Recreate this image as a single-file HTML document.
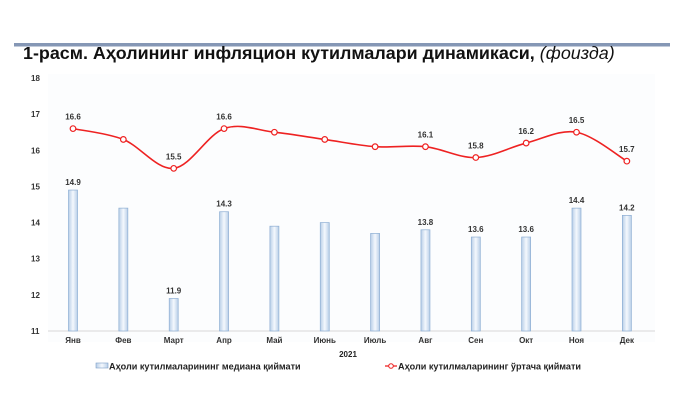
<!DOCTYPE html>
<html><head><meta charset="utf-8"><style>
body{margin:0;background:#fff;width:680px;height:406px;overflow:hidden;font-family:"Liberation Sans",sans-serif}
</style></head><body>
<svg id="s" width="680" height="406" xmlns="http://www.w3.org/2000/svg" font-family="Liberation Sans, sans-serif">
<defs><linearGradient id="g" x1="0" x2="1" y1="0" y2="0"><stop offset="0" stop-color="#b9cfe8"/><stop offset="0.5" stop-color="#f4f8fd"/><stop offset="1" stop-color="#b9cfe8"/></linearGradient></defs>
<rect x="14" y="43" width="656" height="3.5" fill="#8597b5"/>
<text x="23" y="59" font-size="17.9" font-weight="bold" fill="#111">1-расм. Аҳолининг инфляцион кутилмалари динамикаси, <tspan font-weight="normal" font-style="italic">(фоизда)</tspan></text>
<rect x="48" y="74" width="607" height="268" fill="#fcfdfe"/>
<g id="ax" font-size="8" font-weight="bold" fill="#333"></g>
<line x1="48" y1="331" x2="655" y2="331" stroke="#d8d8d8" stroke-width="1"/>
<g id="bars"></g>
<path id="ln" fill="none" stroke="#ee2222" stroke-width="1.6"/>
<g id="pts"></g>
<text x="348" y="357" font-size="8" font-weight="bold" text-anchor="middle" fill="#222">2021</text>
<rect x="96" y="363" width="12" height="5" fill="url(#g)" stroke="#7fa0c8" stroke-width="0.6"/>
<text x="109" y="369.5" font-size="9.1" font-weight="bold" fill="#222">Аҳоли кутилмаларининг медиана қиймати</text>
<line x1="385" y1="366" x2="397" y2="366" stroke="#e22" stroke-width="1.3"/><circle cx="391" cy="366" r="2.3" fill="#fff" stroke="#e22" stroke-width="1"/>
<text x="398" y="369.5" font-size="9.1" font-weight="bold" fill="#222">Аҳоли кутилмаларининг ўртача қиймати</text>
</svg>
<script>
var NS="http://www.w3.org/2000/svg";
function el(t,a,p,txt){var e=document.createElementNS(NS,t);for(var k in a)e.setAttribute(k,a[k]);if(txt!==undefined)e.textContent=txt;document.getElementById(p).appendChild(e);return e;}
function Y(v){return 331-(v-11)*36.14;}
var m=["Янв","Фев","Март","Апр","Май","Июнь","Июль","Авг","Сен","Окт","Ноя","Дек"];
var b=[14.9,14.4,11.9,14.3,13.9,14.0,13.7,13.8,13.6,13.6,14.4,14.2];
var bl=[1,0,1,1,0,0,0,1,1,1,1,1];
var l=[16.6,16.3,15.5,16.6,16.5,16.3,16.1,16.1,15.8,16.2,16.5,15.7];
var ll=[1,0,1,1,0,0,0,1,1,1,1,1];
for(var v=11;v<=18;v++)el("text",{x:31,y:Y(v)+3,"font-size":8},"ax",v);
var X=[];for(var i=0;i<12;i++)X.push(73+i*50.35);
for(i=0;i<12;i++){
 el("text",{x:X[i],y:343,"text-anchor":"middle"},"ax",m[i]);
 el("rect",{x:X[i]-4.5,y:Y(b[i]),width:9,height:331-Y(b[i]),fill:"url(#g)",stroke:"#8eaed3","stroke-width":0.7},"bars");
 if(bl[i])el("text",{x:X[i],y:Y(b[i])-5,"text-anchor":"middle"},"ax",b[i].toFixed(1));
 if(ll[i])el("text",{x:X[i],y:Y(l[i])-9,"text-anchor":"middle"},"ax",l[i].toFixed(1));
}
var P=X.map(function(x,i){return [x,Y(l[i])];});
var d="M"+P[0][0]+","+P[0][1];
for(i=0;i<11;i++){var p0=P[Math.max(i-1,0)],p1=P[i],p2=P[i+1],p3=P[Math.min(i+2,11)];var t=6;
d+=" C"+(p1[0]+(p2[0]-p0[0])/t)+","+(p1[1]+(p2[1]-p0[1])/t)+" "+(p2[0]-(p3[0]-p1[0])/t)+","+(p2[1]-(p3[1]-p1[1])/t)+" "+p2[0]+","+p2[1];}
document.getElementById("ln").setAttribute("d",d);
P.forEach(function(p){el("circle",{cx:p[0],cy:p[1],r:2.8,fill:"#fff",stroke:"#e22","stroke-width":1.2},"pts");});
</script>
</body></html>
